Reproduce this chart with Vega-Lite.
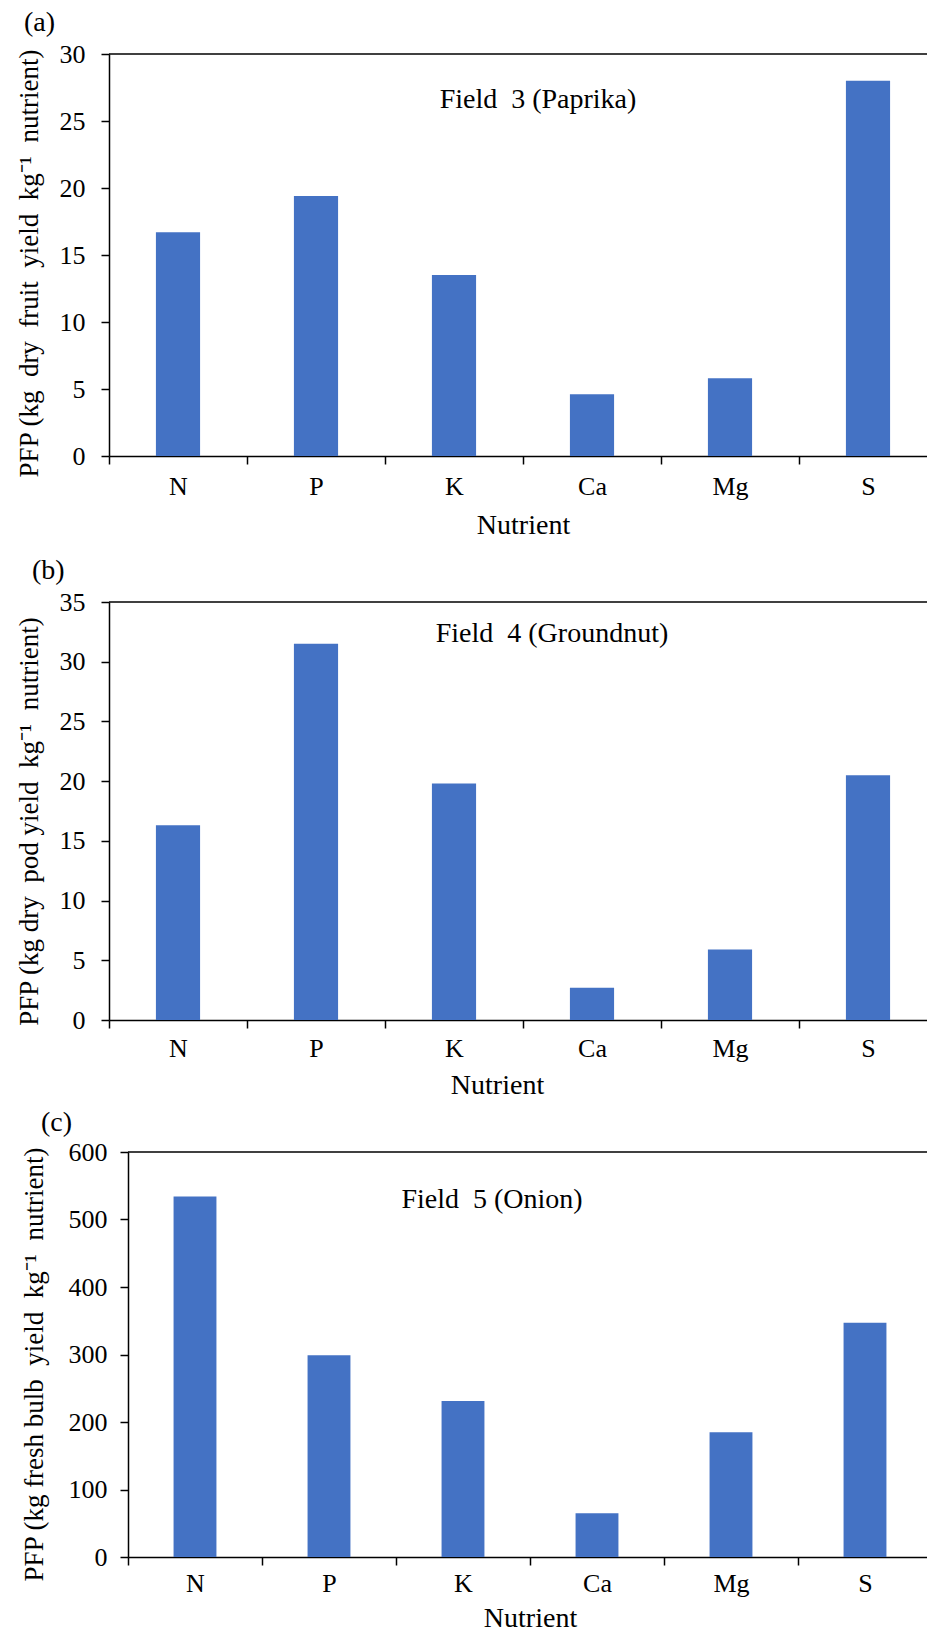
{
  "$schema": "https://vega.github.io/schema/vega-lite/v6.json",
  "background": "white",
  "padding": {"left": 15, "top": 9, "right": -11, "bottom": -5},
  "config": {
    "font": "Liberation Serif",
    "view": {"stroke": null},
    "axis": {
      "labelFont": "Liberation Serif",
      "titleFont": "Liberation Serif",
      "labelColor": "black",
      "titleColor": "black",
      "labelFontSize": 26,
      "titleFontSize": 27,
      "titleFontWeight": "normal",
      "domainColor": "black",
      "domainWidth": 1.5,
      "tickColor": "black",
      "tickWidth": 1.5,
      "tickSize": 8,
      "grid": false
    },
    "title": {"font": "Liberation Serif", "fontWeight": "normal", "fontSize": 28, "color": "black"}
  },
  "datasets": {
    "a": [
      {"nutrient": "N", "pfp": 16.7},
      {"nutrient": "P", "pfp": 19.4},
      {"nutrient": "K", "pfp": 13.5},
      {"nutrient": "Ca", "pfp": 4.6},
      {"nutrient": "Mg", "pfp": 5.8},
      {"nutrient": "S", "pfp": 28.0}
    ],
    "b": [
      {"nutrient": "N", "pfp": 16.3},
      {"nutrient": "P", "pfp": 31.5},
      {"nutrient": "K", "pfp": 19.8},
      {"nutrient": "Ca", "pfp": 2.7},
      {"nutrient": "Mg", "pfp": 5.9},
      {"nutrient": "S", "pfp": 20.5}
    ],
    "c": [
      {"nutrient": "N", "pfp": 534},
      {"nutrient": "P", "pfp": 299},
      {"nutrient": "K", "pfp": 231},
      {"nutrient": "Ca", "pfp": 65},
      {"nutrient": "Mg", "pfp": 185},
      {"nutrient": "S", "pfp": 347}
    ],
    "one": [{}]
  },
  "spacing": 18,
  "vconcat": [
    {
      "vconcat": [
        {
          "width": 828,
          "height": 402,
          "title": {"text": "(a)", "anchor": "start", "frame": "bounds", "offset": 4, "dx": 9},
          "layer": [
            {
              "data": {"name": "a"},
              "mark": {"type": "bar", "color": "#4472C4", "width": {"band": 0.32}},
              "encoding": {
                "x": {"field": "nutrient", "type": "nominal", "sort": null,
                      "scale": {"paddingInner": 0, "paddingOuter": 0},
                      "axis": {"title": "Nutrient", "titleFontSize": 28, "labelAngle": 0, "tickBand": "extent", "labelPadding": 9, "titlePadding": 12}},
                "y": {"field": "pfp", "type": "quantitative",
                      "scale": {"domain": [0, 30], "nice": false},
                      "axis": {"values": [0, 5, 10, 15, 20, 25, 30], "labelPadding": 16, "titlePadding": 16, "titleY": 209,
                               "title": "PFP (kg\u00a0 dry\u00a0 fruit\u00a0 yield\u00a0 kg⁻¹\u00a0 nutrient)"}}
              }
            },
            {"data": {"name": "one"}, "mark": {"type": "rule", "color": "black", "strokeWidth": 1.5}, "encoding": {"y": {"datum": 30}}},
            {
              "data": {"name": "one"},
              "mark": {"type": "text", "fontSize": 28, "fontWeight": "normal", "dx": 15, "baseline": "middle", "align": "center", "color": "black"},
              "encoding": {"x": {"datum": "Ca", "bandPosition": 0}, "y": {"datum": 26.6}, "text": {"value": "Field\u00a0 3 (Paprika)"}}
            }
          ]
        }
      ]
    },
    {
      "spacing": 10,
      "vconcat": [
        {
          "width": 828,
          "height": 418,
          "title": {"text": "(b)", "anchor": "start", "frame": "bounds", "offset": 4, "dx": 17},
          "layer": [
            {
              "data": {"name": "b"},
              "mark": {"type": "bar", "color": "#4472C4", "width": {"band": 0.32}},
              "encoding": {
                "x": {"field": "nutrient", "type": "nominal", "sort": null,
                      "scale": {"paddingInner": 0, "paddingOuter": 0},
                      "axis": {"title": "Nutrient", "titleFontSize": 28, "labelAngle": 0, "tickBand": "extent", "labelPadding": 7, "titlePadding": 10, "titleX": 388}},
                "y": {"field": "pfp", "type": "quantitative",
                      "scale": {"domain": [0, 35], "nice": false},
                      "axis": {"values": [0, 5, 10, 15, 20, 25, 30, 35], "labelPadding": 16, "titlePadding": 16, "titleY": 219,
                               "title": "PFP (kg dry\u00a0 pod yield\u00a0 kg⁻¹\u00a0 nutrient)"}}
              }
            },
            {"data": {"name": "one"}, "mark": {"type": "rule", "color": "black", "strokeWidth": 1.5}, "encoding": {"y": {"datum": 35}}},
            {
              "data": {"name": "one"},
              "mark": {"type": "text", "fontSize": 28, "fontWeight": "normal", "dx": 29, "baseline": "middle", "align": "center", "color": "black"},
              "encoding": {"x": {"datum": "Ca", "bandPosition": 0}, "y": {"datum": 32.3}, "text": {"value": "Field\u00a0 4 (Groundnut)"}}
            }
          ]
        },
        {
          "width": 823,
          "height": 405,
          "title": {"text": "(c)", "anchor": "start", "frame": "bounds", "offset": 2, "dx": 21},
          "layer": [
            {
              "data": {"name": "c"},
              "mark": {"type": "bar", "color": "#4472C4", "width": {"band": 0.32}},
              "encoding": {
                "x": {"field": "nutrient", "type": "nominal", "sort": null,
                      "scale": {"paddingInner": 0, "paddingOuter": 0, "range": [19, 823]},
                      "axis": {"title": "Nutrient", "titleFontSize": 28, "labelAngle": 0, "tickBand": "extent", "labelPadding": 5, "titlePadding": 8}},
                "y": {"field": "pfp", "type": "quantitative",
                      "scale": {"domain": [0, 600], "nice": false},
                      "axis": {"values": [0, 100, 200, 300, 400, 500, 600], "offset": -19, "labelPadding": 13, "titlePadding": 20, "titleY": 212,
                               "title": "PFP (kg fresh bulb\u00a0 yield\u00a0 kg⁻¹\u00a0 nutrient)"}}
              }
            },
            {"data": {"name": "one"}, "mark": {"type": "rule", "color": "black", "strokeWidth": 1.5},
             "encoding": {"x": {"datum": "N", "bandPosition": 0}, "x2": {"datum": "S", "bandPosition": 1}, "y": {"datum": 600}}},
            {
              "data": {"name": "one"},
              "mark": {"type": "text", "fontSize": 28, "fontWeight": "normal", "dx": -38, "baseline": "middle", "align": "center", "color": "black"},
              "encoding": {"x": {"datum": "Ca", "bandPosition": 0}, "y": {"datum": 529}, "text": {"value": "Field\u00a0 5 (Onion)"}}
            }
          ]
        }
      ]
    }
  ]
}
